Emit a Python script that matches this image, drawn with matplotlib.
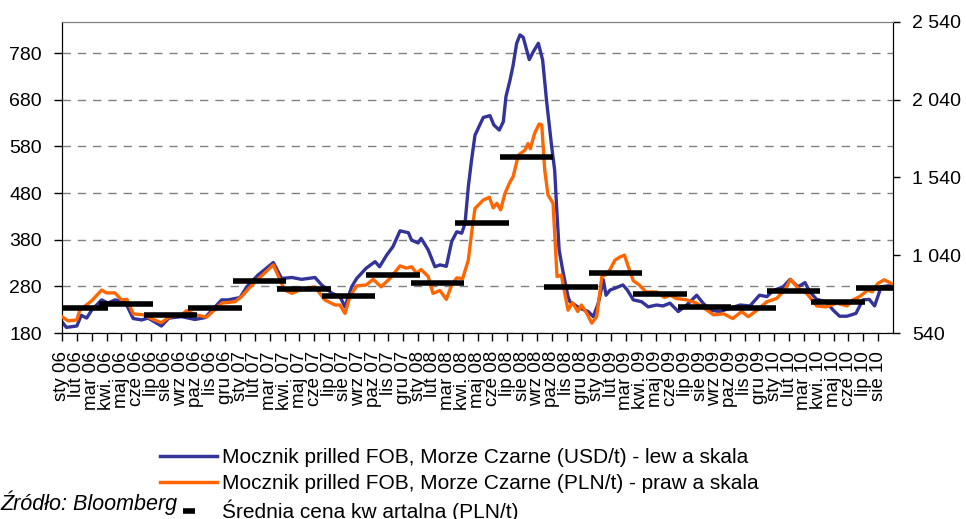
import matplotlib
matplotlib.use('Agg')
import matplotlib.pyplot as plt
from matplotlib.lines import Line2D
from matplotlib.ticker import FuncFormatter

plt.rcParams['font.family'] = ['Liberation Sans', 'DejaVu Sans']

# month labels, Jan 2006 .. Aug 2010
month_names = ['sty', 'lut', 'mar', 'kwi.', 'maj', 'cze', 'lip', 'sie',
               'wrz', 'paz', 'lis', 'gru']
month_labels = [f"{month_names[i % 12]} {6 + i // 12:02d}" for i in range(56)]

# urea prilled FOB Black Sea, USD/t (time in months since Jan 2006)
t_usd = [0, 0.3, 1.0, 1.3, 1.66, 2.0, 2.67, 3.1, 3.57, 4.25, 4.8, 5.37, 5.8,
         6.7, 7.2, 8.07, 8.96, 9.64, 10.76, 11.2, 12.0, 12.45, 13.2, 14.24,
         14.8, 15.5, 16.15, 17.05, 17.5, 18.2, 18.73, 19.07, 19.52, 19.86,
         20.5, 21.1, 21.4, 21.88, 22.3, 22.78, 23.34, 23.56, 24.0, 24.2,
         24.68, 25.13, 25.47, 25.9, 26.26, 26.6, 26.94, 27.16, 27.38, 27.6,
         27.83, 28.39, 28.84, 29.1, 29.47, 29.74, 29.92, 30.19, 30.4, 30.64,
         30.86, 31.08, 31.49, 31.76, 32.1, 32.39, 32.66, 33.0, 33.2, 33.33,
         33.5, 33.78, 34.1, 34.23, 34.9, 35.46, 35.8, 36.14, 36.48, 36.66,
         36.93, 37.26, 37.8, 38.1, 38.5, 39.06, 39.5, 40.07, 40.5, 40.97,
         41.53, 42.1, 42.77, 43.2, 43.67, 44.34, 45.0, 45.7, 46.36, 47.0,
         47.5, 47.93, 48.6, 49.06, 49.6, 50.07, 50.4, 50.86, 51.5, 51.97,
         52.4, 52.9, 53.5, 53.97, 54.4, 54.76, 55.2, 55.65, 56.0]
usd = [204, 192, 195, 218, 212, 229, 251, 244, 251, 247, 211, 208, 212,
       195, 212, 215, 209, 213, 251, 251, 256, 279, 304, 331,
       297, 299, 295, 299, 283, 265, 258, 236, 279, 297,
       319, 333, 322, 347, 365, 399, 395, 379, 373, 383,
       358, 322, 326, 323, 376, 397, 394, 415, 493, 551,
       604, 642, 646, 626, 615, 633, 687, 722, 754, 801,
       819, 814, 766, 783, 801, 765, 676, 579, 529, 451,
       358, 308, 258, 247, 233, 226, 215, 244, 294, 261,
       272, 276, 283, 272, 251, 247, 236, 240, 238, 244,
       226, 240, 261, 244, 229, 226, 233, 240, 238, 261,
       258, 271, 279, 295, 279, 288, 268, 252, 247, 229,
       216, 216, 222, 251, 252, 238, 279, 281, 281]

# same product in PLN/t
t_pln = [0, 0.4, 1.0, 1.2, 2.0, 2.67, 3.0, 3.57, 4.0, 4.37, 4.8, 5.5, 6.0,
         6.7, 7.2, 8.07, 8.4, 9.0, 9.75, 10.76, 11.66, 12.1, 12.6, 13.2,
         14.24, 15.0, 15.5, 16.15, 17.05, 17.7, 18.4, 18.73, 19.07, 19.4,
         19.86, 20.5, 20.97, 21.5, 22.1, 22.78, 23.2, 23.56, 23.9, 24.2,
         24.68, 25.0, 25.47, 25.9, 26.26, 26.6, 27.0, 27.38, 27.6, 27.83,
         28.39, 28.8, 29.06, 29.3, 29.56, 29.85, 30.19, 30.4, 30.75, 31.2,
         31.4, 31.56, 31.85, 32.15, 32.33, 32.53, 32.75, 33.09, 33.36, 33.65,
         34.1, 34.4, 34.76, 35.0, 35.35, 35.7, 36.03, 36.38, 36.7, 36.93,
         37.26, 37.6, 37.9, 38.24, 38.5, 38.9, 39.35, 40.07, 40.6, 40.97,
         41.4, 42.1, 42.77, 43.46, 43.9, 44.6, 45.2, 45.8, 46.25, 46.8,
         47.5, 48.15, 48.7, 49.1, 49.6, 50.18, 50.86, 51.5, 52.2, 52.9,
         53.3, 53.75, 54.3, 54.6, 54.97, 55.4, 55.9]
pln = [645, 618, 624, 687, 747, 816, 798, 798, 753, 756, 663, 657, 633,
       606, 642, 657, 684, 657, 642, 732, 741, 774, 828, 885,
       978, 816, 795, 822, 837, 753, 720, 720, 666, 774,
       843, 849, 885, 837, 891, 972, 957, 966, 924, 948,
       903, 795, 813, 756, 849, 894, 891, 1008, 1182, 1341,
       1395, 1413, 1344, 1374, 1332, 1437, 1512, 1545, 1683, 1716,
       1758, 1725, 1824, 1884, 1878, 1587, 1428, 1374, 903, 912,
       687, 735, 678, 720, 669, 603, 645, 903, 918, 948,
       1008, 1029, 1041, 945, 876, 849, 804, 804, 768, 783,
       762, 753, 732, 687, 657, 663, 633, 678, 645, 684,
       741, 762, 816, 885, 828, 795, 714, 708, 732, 714,
       753, 774, 816, 804, 858, 882, 858]

# quarterly average price, PLN/t, Q1 2006 .. Q3 2010
quarter_avg = [699, 724, 657, 699, 876, 825, 777, 912, 863, 1249,
               1674, 837, 927, 789, 707, 699, 812, 737, 829]

labels = ['Mocznik prilled FOB, Morze Czarne (USD/t) - lew a skala',
          'Mocznik prilled FOB, Morze Czarne (PLN/t) - praw a skala',
          'Średnia cena kw artalna (PLN/t)']

BLUE = '#333399'
ORANGE = '#FF6600'

fig = plt.figure(figsize=(9.66, 5.19), dpi=100)
ax = fig.add_axes([62 / 966, 1 - 333 / 519, 831 / 966, 311 / 519])
ax2 = ax.twinx()

ax.plot(t_usd, usd, color=BLUE, lw=2.4, zorder=3)
ax2.plot(t_pln, pln, color=ORANGE, lw=2.4, zorder=3)
q_start = [3 * i - 0.5 for i in range(len(quarter_avg))]
q_end = [3 * i + 3.1 for i in range(len(quarter_avg))]
ax2.hlines(quarter_avg, q_start, q_end, color='black', lw=4, zorder=4)

ax.set_xlim(0, 56)
ax.set_ylim(180, 2540 / 3)
ax2.set_ylim(540, 2540)
ax.set_yticks(range(180, 781, 100))
ax2.set_yticks(range(540, 2541, 500))
ax2.yaxis.set_major_formatter(FuncFormatter(lambda v, p: f"{int(v):,}".replace(',', ' ')))

ax.set_xticks(range(56))
ax.set_xticklabels(month_labels, rotation=90, fontsize=13.5)
ax.tick_params(axis='x', direction='out', length=6, width=1, pad=7)
ax.tick_params(axis='y', direction='out', length=6, width=1, pad=8.5, labelsize=14)
ax2.tick_params(axis='y', direction='out', length=5, width=1, pad=8.5, labelsize=14)

ax.grid(axis='y', color='#808080', linestyle=(0, (6, 5)), lw=1)
ax.set_axisbelow(True)
for a in (ax, ax2):
    a.spines['top'].set_color('#808080')
    a.spines['left'].set_color('black')
    a.spines['right'].set_color('black')
    a.spines['bottom'].set_color('black')

handles = [Line2D([], [], color=BLUE, lw=2.5),
           Line2D([], [], color=ORANGE, lw=2.5),
           Line2D([], [], color='black', lw=0, marker='_', markersize=8, markeredgewidth=4)]
fig.legend(handles, labels, loc='upper left', bbox_to_anchor=(160 / 966, 1 - 448 / 519),
           frameon=False, fontsize=15, handlelength=2.75, handletextpad=0.25,
           labelspacing=0.33, borderpad=0, borderaxespad=0, numpoints=1)

fig.text(0, 1 - 503 / 519, 'Źródło: Bloomberg', fontsize=15.5, style='italic',
         ha='left', va='center')

fig.savefig('out.png', dpi=100, facecolor='white')
